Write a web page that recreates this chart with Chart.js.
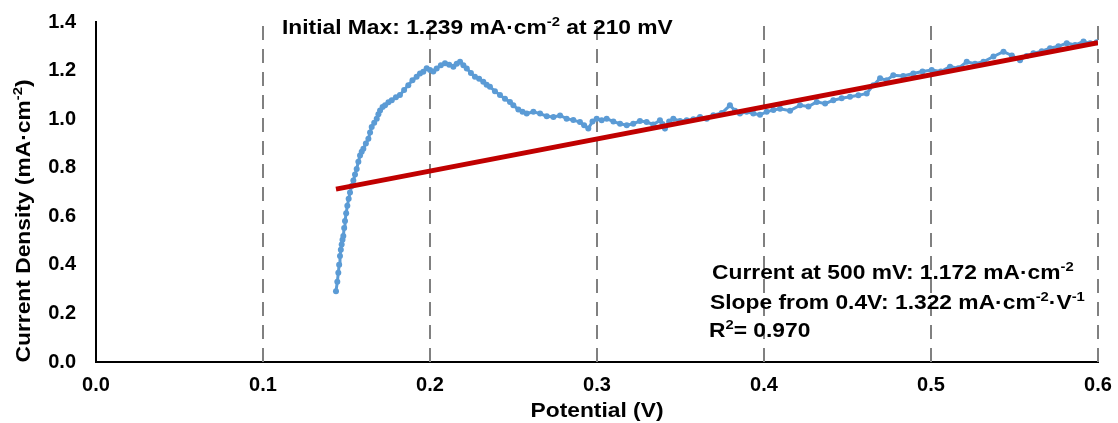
<!DOCTYPE html>
<html>
<head>
<meta charset="utf-8">
<script src="https://cdn.jsdelivr.net/npm/chart.js@4"></script>
<style>
  body { margin: 0; background: #fff; }
  #wrap { width: 1118px; height: 423px; }
</style>
</head>
<body>
<div id="wrap"><canvas id="ivCanvas"></canvas></div>
<script>
// potentiel (V) et densité de courant (mA/cm2)
const potX = [0.1437, 0.1445, 0.1451, 0.1456, 0.1461, 0.1466, 0.1471, 0.1476, 0.1481, 0.1486,
  0.1491, 0.1498, 0.1505, 0.1513, 0.1521, 0.1531, 0.1541, 0.1551, 0.1561, 0.1571,
  0.1581, 0.1591, 0.1601, 0.1616, 0.1631, 0.1641, 0.1651, 0.1666, 0.1681, 0.1691,
  0.1701, 0.1716, 0.1731, 0.1751, 0.1771, 0.1796, 0.1820, 0.1845, 0.1870, 0.1895,
  0.1920, 0.1940, 0.1960, 0.1980, 0.2000, 0.2020, 0.2040, 0.2065, 0.2090, 0.2115,
  0.2140, 0.2160, 0.2180, 0.2200, 0.2220, 0.2245, 0.2269, 0.2294, 0.2319, 0.2339,
  0.2359, 0.2389, 0.2419, 0.2449, 0.2479, 0.2499, 0.2529, 0.2554, 0.2579, 0.2619,
  0.2659, 0.2699, 0.2739, 0.2779, 0.2818, 0.2858, 0.2898, 0.2923, 0.2948, 0.2973,
  0.2998, 0.3028, 0.3058, 0.3098, 0.3138, 0.3178, 0.3217, 0.3257, 0.3297, 0.3337,
  0.3377, 0.3392, 0.3407, 0.3432, 0.3457, 0.3497, 0.3537, 0.3577, 0.3617, 0.3657,
  0.3697, 0.3747, 0.3796, 0.3826, 0.3856, 0.3896, 0.3936, 0.3976, 0.4016, 0.4056,
  0.4096, 0.4156, 0.4216, 0.4266, 0.4316, 0.4366, 0.4415, 0.4465, 0.4515, 0.4565,
  0.4615, 0.4655, 0.4695, 0.4735, 0.4774, 0.4834, 0.4894, 0.4949, 0.5004, 0.5059,
  0.5114, 0.5164, 0.5214, 0.5264, 0.5314, 0.5374, 0.5434, 0.5484, 0.5533, 0.5573,
  0.5613, 0.5663, 0.5713, 0.5763, 0.5813, 0.5863, 0.5913, 0.5953, 0.5992];
const courant = [0.291, 0.330, 0.367, 0.400, 0.436, 0.462, 0.484, 0.503, 0.519, 0.552,
  0.581, 0.612, 0.643, 0.672, 0.698, 0.725, 0.747, 0.772, 0.795, 0.825,
  0.850, 0.866, 0.878, 0.900, 0.919, 0.945, 0.968, 0.985, 1.002, 1.020,
  1.036, 1.050, 1.057, 1.070, 1.078, 1.090, 1.099, 1.120, 1.140, 1.160,
  1.175, 1.188, 1.195, 1.210, 1.202, 1.196, 1.209, 1.222, 1.230, 1.224,
  1.216, 1.228, 1.236, 1.222, 1.209, 1.190, 1.175, 1.166, 1.154, 1.142,
  1.133, 1.115, 1.099, 1.084, 1.071, 1.057, 1.040, 1.030, 1.023, 1.030,
  1.023, 1.012, 1.009, 1.015, 1.002, 0.996, 0.988, 0.975, 0.961, 0.990,
  1.002, 0.995, 1.002, 0.990, 0.981, 0.975, 0.981, 0.992, 0.988, 0.978,
  0.995, 0.980, 0.961, 0.990, 1.002, 0.992, 0.995, 1.000, 1.009, 1.002,
  1.016, 1.025, 1.057, 1.035, 1.023, 1.030, 1.023, 1.018, 1.030, 1.038,
  1.043, 1.035, 1.057, 1.052, 1.071, 1.064, 1.078, 1.086, 1.092, 1.098,
  1.106, 1.140, 1.168, 1.160, 1.181, 1.178, 1.188, 1.196, 1.202, 1.196,
  1.216, 1.210, 1.236, 1.228, 1.236, 1.258, 1.278, 1.262, 1.243, 1.260,
  1.271, 1.280, 1.292, 1.300, 1.313, 1.305, 1.320, 1.312, 1.317];

// droite de régression (à partir de 0.4 V)
const fitX = [0.1437, 0.6];
const fitY = [0.712, 1.315];

const xTicks = [0, 0.1, 0.2, 0.3, 0.4, 0.5, 0.6];
const yTicks = [0, 0.2, 0.4, 0.6, 0.8, 1.0, 1.2, 1.4];

const FONT = "'Liberation Sans', Arial, sans-serif";
const STRETCH = 1.14; // le texte de l'original est un peu élargi

// écrit un texte avec exposants : segments = [[texte, exposant?], ...]
function drawRich(ctx, segs, x, y, size) {
    ctx.save();
    ctx.translate(x, y);
    ctx.scale(STRETCH, 1);
    let cx = 0;
    segs.forEach(([t, sup]) => {
        const s = sup ? Math.round(size * 0.65) : size;
        ctx.font = "bold " + s + "px " + FONT;
        ctx.fillText(t, cx, sup ? -size * 0.38 : 0);
        cx += ctx.measureText(t).width;
    });
    ctx.restore();
}
function richWidth(ctx, segs, size) {
    let w = 0;
    segs.forEach(([t, sup]) => {
        ctx.font = "bold " + (sup ? Math.round(size * 0.65) : size) + "px " + FONT;
        w += ctx.measureText(t).width;
    });
    return w * STRETCH;
}

const decor = {
    id: 'decor',
    beforeDatasetsDraw(chart) {
        const ctx = chart.ctx, a = chart.chartArea, sx = chart.scales.x;
        ctx.save();
        ctx.strokeStyle = '#808080';
        ctx.lineWidth = 2;
        ctx.setLineDash([14, 9]);
        xTicks.slice(1).forEach(v => {
            const px = Math.round(sx.getPixelForValue(v));
            ctx.beginPath();
            ctx.moveTo(px, a.bottom);
            ctx.lineTo(px, a.top);
            ctx.stroke();
        });
        ctx.restore();
    },
    afterDraw(chart) {
        const ctx = chart.ctx;
        ctx.save();
        ctx.fillStyle = '#000';
        ctx.textBaseline = 'alphabetic';
        ctx.textAlign = 'left';
        drawRich(ctx, [['Initial Max: 1.239 mA·cm'], ['-2', 1], [' at 210 mV']], 282, 34, 20);
        drawRich(ctx, [['Current at 500 mV: 1.172 mA·cm'], ['-2', 1]], 712, 279, 20);
        drawRich(ctx, [['Slope from 0.4V: 1.322 mA·cm'], ['-2', 1], ['·V'], ['-1', 1]], 710, 309, 20);
        drawRich(ctx, [['R'], ['2', 1], ['= 0.970']], 709, 337, 20);

        // titre axe x
        const xt = [['Potential (V)']];
        drawRich(ctx, xt, 597 - richWidth(ctx, xt, 20) / 2, 417, 20);
        // titre axe y
        const yt = [['Current Density (mA·cm'], ['-2', 1], [')']];
        ctx.translate(30, 221);
        ctx.rotate(-Math.PI / 2);
        drawRich(ctx, yt, -richWidth(ctx, yt, 20) / 2, 0, 20);
        ctx.restore();
    }
};

new Chart(document.getElementById('ivCanvas'), {
    type: 'scatter',
    data: {
        datasets: [{
            data: fitX.map((x, i) => ({ x: x, y: fitY[i] })),
            showLine: true,
            borderColor: '#C00000',
            borderWidth: 5,
            pointRadius: 0,
            order: 0
        }, {
            data: potX.map((x, i) => ({ x: x, y: courant[i] })),
            showLine: true,
            borderColor: '#5B9BD5',
            borderWidth: 3,
            pointRadius: 3,
            pointBackgroundColor: '#5B9BD5',
            pointBorderWidth: 0,
            order: 1
        }]
    },
    options: {
        responsive: true,
        maintainAspectRatio: false,
        animation: false,
        layout: { padding: { top: 22, right: 20, left: 0, bottom: 0 } },
        plugins: { legend: { display: false }, tooltip: { enabled: false } },
        scales: {
            x: {
                type: 'linear',
                min: 0, max: 0.6,
                afterBuildTicks: s => { s.ticks = xTicks.map(v => ({ value: v })); },
                afterFit: s => { s.height = 61; s.paddingLeft = 0; s.paddingRight = 0; },
                ticks: {
                    color: '#000',
                    padding: 11,
                    font: { family: FONT, size: 20, weight: 'bold' },
                    callback: v => v.toFixed(1)
                },
                grid: { display: false, drawTicks: false },
                border: { display: true, color: '#000', width: 2 }
            },
            y: {
                min: 0, max: 1.4,
                afterBuildTicks: s => { s.ticks = yTicks.map(v => ({ value: v })); },
                afterFit: s => { s.width = 96; s.paddingTop = 0; s.paddingBottom = 0; },
                ticks: {
                    color: '#000',
                    padding: 20,
                    font: { family: FONT, size: 20, weight: 'bold' },
                    callback: v => v.toFixed(1)
                },
                grid: { display: false, drawTicks: false },
                border: { display: true, color: '#000', width: 2 }
            }
        }
    },
    plugins: [decor]
});
</script>
</body>
</html>
